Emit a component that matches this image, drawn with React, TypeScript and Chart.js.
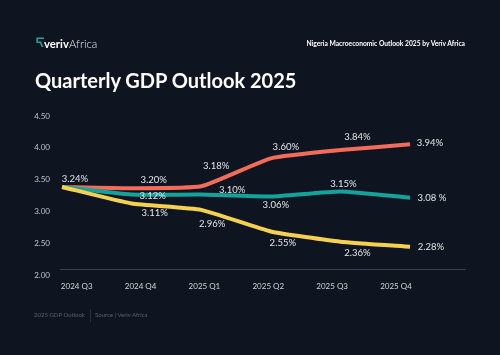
import React, { useEffect, useRef } from "react";
import { Chart, registerables } from "chart.js";

Chart.register(...registerables);

// ---- data ----
const quarters = ["2024 Q3", "2024 Q4", "2025 Q1", "2025 Q2", "2025 Q3", "2025 Q4"];
const upsideValues = [3.29, 3.27, 3.3, 3.74, 3.87, 3.96];
const baselineValues = [3.29, 3.17, 3.17, 3.14, 3.22, 3.12];
const downsideValues = [3.29, 3.03, 2.93, 2.59, 2.43, 2.35];
const upsideLabels = ["3.24%", "3.20%", "3.18%", "3.60%", "3.84%", "3.94%"];
const baselineLabels = ["", "3.12%", "3.10%", "3.06%", "3.15%", "3.08 %"];
const downsideLabels = ["", "3.11%", "2.96%", "2.55%", "2.36%", "2.28%"];
const yTicks = [2.0, 2.5, 3.0, 3.5, 4.0, 4.5];

// ---- label placement (style) ----
const upsideOffsets = [[13, -8], [22, -8], [15, -20], [15, -11], [17, -13], [20, -1]];
const baselineOffsets = [[0, 0], [21, 1], [31, -5], [5, 8], [3, -7], [22, 0]];
const downsideOffsets = [[0, 0], [23, 9], [11, 14], [12, 11], [17, 11], [21, 0]];

const BG = "#0f1520";

export default function App() {
  const ref = useRef<HTMLCanvasElement>(null);

  useEffect(() => {
    const canvas = ref.current;
    if (!canvas) return;
    const texts = [upsideLabels, baselineLabels, downsideLabels];
    const offs = [upsideOffsets, baselineOffsets, downsideOffsets];

    const pointLabels = {
      id: "pointLabels",
      afterDatasetsDraw(chart: any) {
        const c = chart.ctx;
        c.save();
        c.font = "9.5px Lato";
        c.fillStyle = "#e2e4e8";
        c.textAlign = "center";
        c.textBaseline = "middle";
        chart.data.datasets.forEach((_: any, di: number) => {
          const meta = chart.getDatasetMeta(di);
          meta.data.forEach((pt: any, i: number) => {
            const t = texts[di][i];
            if (!t) return;
            c.fillText(t, pt.x + offs[di][i][0], pt.y + offs[di][i][1]);
          });
        });
        c.restore();
      },
    };

    const mk = (vals: number[]) => vals.map((v, i) => ({ x: i, y: v }));

    const chart = new Chart(canvas, {
      type: "line",
      data: {
        datasets: [
          {
            label: "Upside",
            data: mk(upsideValues),
            borderColor: "#f26b5b",
            borderWidth: 4,
            pointRadius: 0,
            tension: 0.15,
            borderJoinStyle: "round",
            order: 2,
          },
          {
            label: "Baseline",
            data: mk(baselineValues),
            borderColor: "#13a39a",
            borderWidth: 4,
            pointRadius: 0,
            tension: 0.15,
            borderJoinStyle: "round",
            order: 1,
          },
          {
            label: "Downside",
            data: mk(downsideValues),
            borderColor: "#f4d250",
            borderWidth: 4,
            pointRadius: 0,
            tension: 0.15,
            borderJoinStyle: "round",
            order: 0,
          },
        ],
      },
      options: {
        responsive: false,
        animation: false,
        devicePixelRatio: 1,
        layout: { padding: { left: 30, right: 35, top: 110, bottom: 56 } },
        plugins: { legend: { display: false }, tooltip: { enabled: false } },
        scales: {
          x: {
            type: "linear",
            min: -0.029,
            max: 5.79,
            position: "bottom",
            grid: { display: false, drawTicks: false },
            border: { display: true, color: "#3b414b", width: 1 },
            ticks: { display: false },
            afterFit: (s: any) => {
              s.height = 0;
            },
          },
          x2: {
            type: "linear",
            min: -0.2615,
            max: 6.08,
            position: "bottom",
            grid: { display: false, drawTicks: false },
            border: { display: false },
            afterBuildTicks: (s: any) => {
              s.ticks = quarters.map((_, i) => ({ value: i }));
            },
            ticks: {
              padding: 13,
              color: "#d2d5da",
              font: { family: "Lato", size: 8 },
              maxRotation: 0,
              autoSkip: false,
              callback: (v: any) => quarters[Math.round(Number(v))] ?? "",
            },
            afterFit: (s: any) => {
              s.height = 30;
            },
          },
          y: {
            min: 2,
            max: 4.5,
            grid: { display: false, drawTicks: false },
            border: { display: false },
            afterBuildTicks: (s: any) => {
              s.ticks = yTicks.map((v) => ({ value: v }));
            },
            ticks: {
              padding: 10,
              labelOffset: 6,
              color: "#bfc3ca",
              font: { family: "Lato", size: 8 },
              callback: (v: any) => Number(v).toFixed(2),
            },
            afterFit: (s: any) => {
              s.width = 30;
            },
          },
        },
      },
      plugins: [pointLabels],
    } as any);

    return () => chart.destroy();
  }, []);

  return (
    <div
      style={{
        position: "absolute",
        left: 0,
        top: 0,
        width: 500,
        height: 355,
        background: BG,
        overflow: "hidden",
        fontFamily: "Lato, sans-serif",
      }}
    >
      <canvas
        ref={ref}
        width={500}
        height={355}
        style={{ position: "absolute", left: 0, top: 0, width: 500, height: 355 }}
      />
      <svg
        width={9}
        height={11}
        viewBox="0 0 9 11"
        style={{ position: "absolute", left: 36, top: 37 }}
      >
        <polyline
          points="8,1.2 1.2,1.2 1.2,5.2 4.5,5.2 6.5,10"
          fill="none"
          stroke="#19a89d"
          strokeWidth={1.6}
        />
      </svg>
      <div
        style={{
          position: "absolute",
          left: 44,
          top: 37.5,
          fontSize: 11.3,
          lineHeight: "11px",
          whiteSpace: "nowrap",
          color: "#ffffff",
        }}
      >
        <span style={{ fontWeight: 700 }}>veriv</span>
        <span style={{ fontWeight: 300, color: "#e6e8ec" }}>Africa</span>
      </div>
      <div
        style={{
          position: "absolute",
          right: 35,
          top: 39.5,
          fontSize: 6.7,
          lineHeight: "7px",
          fontWeight: 700,
          color: "#ffffff",
          whiteSpace: "nowrap",
        }}
      >
        Nigeria Macroeconomic Outlook 2025 by Veriv Africa
      </div>
      <div
        style={{
          position: "absolute",
          left: 35,
          top: 70,
          fontSize: 20,
          lineHeight: "20px",
          fontWeight: 700,
          color: "#ffffff",
          whiteSpace: "nowrap",
        }}
      >
        Quarterly GDP Outlook 2025
      </div>
      <div
        style={{
          position: "absolute",
          left: 34,
          top: 312,
          fontSize: 6,
          lineHeight: "6px",
          color: "#59606b",
          whiteSpace: "nowrap",
        }}
      >
        2025 GDP Outlook
      </div>
      <div
        style={{
          position: "absolute",
          left: 90,
          top: 309,
          width: 1,
          height: 13,
          background: "#2a3039",
        }}
      />
      <div
        style={{
          position: "absolute",
          left: 95,
          top: 312,
          fontSize: 6,
          lineHeight: "6px",
          color: "#59606b",
          whiteSpace: "nowrap",
        }}
      >
        Source | Veriv Africa
      </div>
    </div>
  );
}
